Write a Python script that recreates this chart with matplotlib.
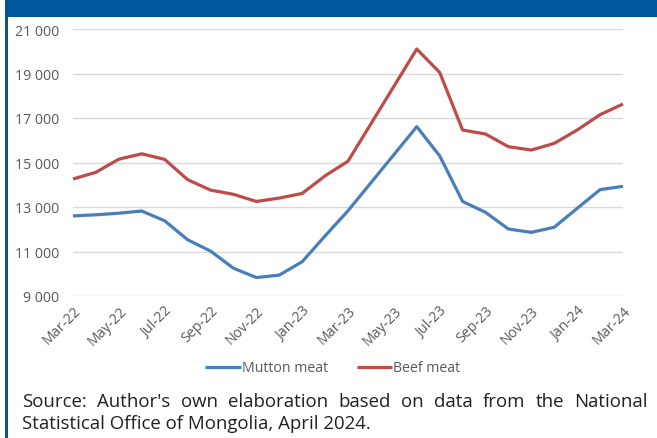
import numpy as np
import matplotlib.pyplot as plt
from matplotlib.patches import Rectangle

# monthly prices, Mar-22 .. Mar-24
months = ["Mar-22", "Apr-22", "May-22", "Jun-22", "Jul-22", "Aug-22", "Sep-22",
          "Oct-22", "Nov-22", "Dec-22", "Jan-23", "Feb-23", "Mar-23", "Apr-23",
          "May-23", "Jun-23", "Jul-23", "Aug-23", "Sep-23", "Oct-23", "Nov-23",
          "Dec-23", "Jan-24", "Feb-24", "Mar-24"]
mutton = [12600, 12650, 12720, 12820, 12380, 11530, 11020, 10250, 9830, 9940,
          10540, 11700, 12830, 14090, 15350, 16610, 15300, 13250, 12760, 12010,
          11860, 12090, 12940, 13780, 13930]
beef = [14260, 14560, 15150, 15390, 15140, 14230, 13760, 13570, 13250, 13400,
        13610, 14400, 15060, 16740, 18420, 20100, 19050, 16460, 16280, 15710,
        15560, 15860, 16460, 17150, 17630]
yticks = [9000, 11000, 13000, 15000, 17000, 19000, 21000]
source = ("Source: Author's own elaboration based on data from the National",
          "Statistical Office of Mongolia, April 2024.")

W, H = 657, 439
fig = plt.figure(figsize=(W / 100, H / 100), dpi=100)
fig.patch.set_facecolor("white")

navy = "#00569a"
fig.add_artist(Rectangle((6 / W, 1 - 18 / H), 1, 18 / H, transform=fig.transFigure,
                         facecolor=navy, edgecolor="none"))
fig.add_artist(Rectangle((5 / W, 0), 2.5 / W, 1, transform=fig.transFigure,
                         facecolor=navy, edgecolor="none"))

ax = fig.add_axes([73 / W, 1 - 297 / H, 550 / W, 267 / H])
x = np.arange(len(months))
ax.plot(x, mutton, color="#4a7ebb", lw=2.3, solid_capstyle="butt", clip_on=False,
        label="Mutton meat")
ax.plot(x, beef, color="#be4b48", lw=2.3, solid_capstyle="butt", clip_on=False,
        label="Beef meat")

ax.set_xlim(0, len(months) - 1)
ax.set_ylim(9000, 21000)
ax.set_yticks(yticks)
ax.set_yticklabels([f"{v:,}".replace(",", " ") for v in yticks])
ax.set_xticks(x[::2])
ax.set_xticklabels(months[::2], rotation=45, ha="right", va="top",
                   rotation_mode="anchor")
ax.grid(axis="y", color="#d9d9d9", lw=1)
ax.set_axisbelow(True)
for s in ax.spines.values():
    s.set_visible(False)
ax.tick_params(length=0, labelsize=10.2, labelcolor="#595959")
ax.tick_params(axis="y", pad=10)
ax.tick_params(axis="x", pad=5)
for lab in ax.get_xticklabels() + ax.get_yticklabels():
    lab.set_fontfamily("Open Sans")

leg = ax.legend(loc="center", bbox_to_anchor=(333 / W, 1 - 369 / H),
                bbox_transform=fig.transFigure, ncol=2, frameon=False,
                handlelength=2.5, handletextpad=0.1, columnspacing=2.0,
                prop={"family": "Open Sans", "size": 10.2})
for t in leg.get_texts():
    t.set_color("#595959")

# justified source note: first line spread between both margins
fig.canvas.draw()
rend = fig.canvas.get_renderer()
left, right = 22, 648
words = source[0].split()
arts = [fig.text(0, 1 - 407 / H, w, fontsize=13.4, family="Open Sans", color="#231f20")
        for w in words]
widths = [a.get_window_extent(rend).width for a in arts]
gap = (right - left - sum(widths)) / (len(words) - 1)
pos = left
for a, w in zip(arts, widths):
    a.set_x(pos / W)
    pos += w + gap
fig.text(left / W, 1 - 429 / H, source[1], fontsize=13.4, family="Open Sans",
         color="#231f20")

fig.savefig("out.png", dpi=100)
